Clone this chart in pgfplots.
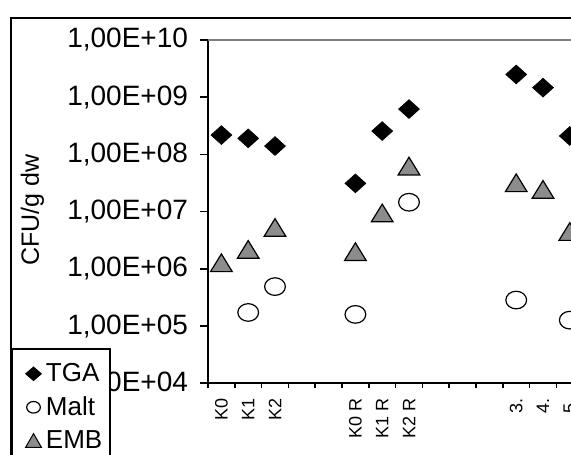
\documentclass[border=0pt]{standalone}
\usepackage{pgfplots}
\pgfplotsset{compat=1.18}
\usepackage{fontspec}
\setmainfont{Liberation Sans}
\definecolor{embgray}{RGB}{140,140,140}
\begin{document}
\begin{tikzpicture}
\useasboundingbox (0pt,0pt) rectangle (285.5pt,227pt);
\clip (0pt,0pt) rectangle (285.5pt,227pt);
\fill[white] (0pt,0pt) rectangle (285.5pt,227pt);
\draw[line width=0.8pt] (5.5pt,-10pt) -- (5.5pt,218pt) -- (300pt,218pt);
\begin{axis}[
  at={(104pt,35.35pt)}, anchor=south west,
  scale only axis, width=201pt, height=171.65pt,
  ymode=log, ymin=1e4, ymax=1e10,
  xmin=-0.5, xmax=14.5,
  axis x line=bottom, axis y line=left,
  axis line style={-, black, line width=0.8pt},
  ytick={1e4,1e5,1e6,1e7,1e8,1e9,1e10},
  yticklabels={{1,00E+04},{1,00E+05},{1,00E+06},{1,00E+07},{1,00E+08},{1,00E+09},{1,00E+10}},
  yminorticks=false,
  tick align=outside,
  major tick length=4pt,
  minor tick length=2.5pt,
  y tick style={black, line width=0.8pt},
  xtick={0,...,14},
  xticklabels={K0,K1,K2,,,K0 R,K1 R,K2 R,,,,3.,4.,5.,},
  major x tick style={draw=none},
  minor xtick={-0.5,0.5,...,14.5},
  minor x tick style={black, line width=0.8pt},
  yticklabel style={font=\fontsize{14}{16}\selectfont, xshift=-2.5pt},
  xticklabel style={rotate=90, anchor=east, font=\fontsize{9}{10}\selectfont},
  ylabel={CFU/g dw},
  every axis y label/.style={at={(axis description cs:-0.437,0.505)}, rotate=90, anchor=center, font=\fontsize{12.5}{14}\selectfont},
  legend style={at={(axis description cs:-0.488,0.1016)}, anchor=north west, draw=black, line width=0.8pt, fill=white, font=\fontsize{13}{15.6}\selectfont, row sep=2pt, inner xsep=2pt, inner ysep=5pt},
  legend cell align=left,
  clip=false,
]
\draw[gray, line width=0.6pt] (rel axis cs:0,1) -- (rel axis cs:1.2,1);
\addplot[only marks, mark=diamond*, mark size=4.65pt, mark options={xscale=1.48, fill=black, draw=black, line width=0.4pt},
  legend image code/.code={\path[draw=none, fill=none] (0pt,0pt) -- (12.65pt,0pt); \path[draw=black, fill=black, line width=0.4pt] plot[only marks, mark=diamond*, mark size=3.4pt, mark options={xscale=1.55}] coordinates {(8.45pt,0pt)};}]
  coordinates {(0,2.18e8) (1,1.91e8) (2,1.40e8) (5,3.12e7) (6,2.56e8) (7,6.2e8) (11,2.5e9) (12,1.47e9) (13,2.1e8)};
\addlegendentry{TGA}
\addplot[only marks, mark=o, mark size=4.4pt, mark options={xscale=1.18, fill=white, draw=black, line width=0.6pt},
  legend image code/.code={\path[draw=none, fill=none] (0pt,0pt) -- (12.65pt,0pt); \path[draw=black, fill=white, line width=0.5pt] plot[only marks, mark=o, mark size=2.9pt] coordinates {(8.45pt,0pt)};}]
  coordinates {(1,1.73e5) (2,4.9e5) (5,1.6e5) (7,1.46e7) (11,2.85e5) (13,1.27e5)};
\addlegendentry{Malt}
\addplot[only marks, mark=triangle*, mark size=5.9pt, mark options={xscale=1.06, yshift=-1.5pt, fill=embgray, draw=black, line width=0.6pt},
  legend image code/.code={\path[draw=none, fill=none] (0pt,0pt) -- (12.65pt,0pt); \path[draw=black, fill=embgray, line width=0.5pt] plot[only marks, mark=triangle*, mark size=4.6pt, mark options={yshift=-1.1pt}] coordinates {(8.45pt,0pt)};}]
  coordinates {(0,1.28e6) (1,2.19e6) (2,5.3e6) (5,2.0e6) (6,9.5e6) (7,6.27e7) (11,3.2e7) (12,2.45e7) (13,4.5e6)};
\addlegendentry{EMB}
\end{axis}
\end{tikzpicture}
\end{document}
